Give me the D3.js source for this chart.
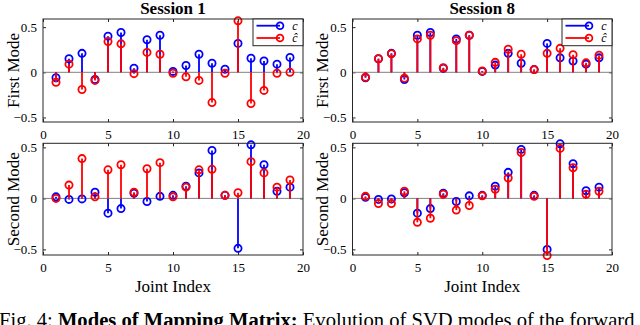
<!DOCTYPE html>
<html>
<head>
<meta charset="utf-8">
<script src="https://cdn.jsdelivr.net/npm/d3@7"></script>
<style>
  body { margin: 0; background: #fff; }
  svg { display: block; }
  text { font-family: "Liberation Serif", "Times New Roman", serif; fill: #000; }
</style>
</head>
<body>
<div id="chart"></div>
<script>
// joint index on the x axis
const joints = [1, 2, 3, 4, 5, 6, 7, 8, 9, 10, 11, 12, 13, 14, 15, 16, 17, 18, 19];

// Session 1, first mode
const s1FirstC    = [-0.06, 0.15, 0.21, -0.08, 0.40, 0.44, 0.045, 0.36, 0.41, 0.01, 0.075, 0.20, 0.10, 0.035, 0.32, 0.155, 0.125, 0.09, 0.165];
const s1FirstChat = [-0.11, 0.09, -0.19, -0.09, 0.34, 0.315, -0.015, 0.22, 0.20, -0.01, -0.05, -0.09, -0.335, -0.01, 0.57, -0.345, -0.20, -0.01, 0.0];
// Session 8, first mode
const s8FirstC    = [-0.06, 0.15, 0.21, -0.08, 0.41, 0.44, 0.045, 0.37, 0.41, 0.01, 0.08, 0.21, 0.10, 0.03, 0.32, 0.16, 0.125, 0.09, 0.16];
const s8FirstChat = [-0.055, 0.15, 0.205, -0.065, 0.37, 0.41, 0.05, 0.35, 0.41, 0.015, 0.11, 0.255, 0.20, 0.03, 0.21, 0.265, 0.195, 0.105, 0.19];
// Session 1, second mode
const s1SecondC    = [0.015, -0.01, -0.005, 0.06, -0.145, -0.10, 0.05, -0.03, 0.02, 0.03, 0.12, 0.25, 0.47, 0.03, -0.49, 0.525, 0.33, 0.07, 0.11];
const s1SecondChat = [0.0, 0.13, 0.39, 0.015, 0.28, 0.33, 0.06, 0.29, 0.35, 0.015, 0.11, 0.28, 0.285, 0.03, 0.055, 0.36, 0.25, 0.11, 0.18];
// Session 8, second mode
const s8SecondC    = [0.01, -0.01, -0.005, 0.055, -0.145, -0.10, 0.05, -0.03, 0.025, 0.03, 0.12, 0.255, 0.48, 0.03, -0.50, 0.535, 0.34, 0.075, 0.11];
const s8SecondChat = [0.02, -0.05, -0.05, 0.07, -0.235, -0.195, 0.04, -0.115, -0.07, 0.025, 0.09, 0.20, 0.45, 0.02, -0.56, 0.49, 0.30, 0.04, 0.07];

const xTicks = [0, 5, 10, 15, 20];
const yTicks = [-0.5, 0, 0.5];
const sessionTitles = ["Session 1", "Session 8"];
const rowLabels = ["First Mode", "Second Mode"];
const seriesNames = ["c", "ĉ"];

const W = 640, H = 325;
const blue = "#0000ff", red = "#ff0000", axisCol = "#262626";

const svg = d3.select("#chart").append("svg")
  .attr("width", W)
  .attr("height", H);

// panel boxes
const cols = [{x0: 43, x1: 303}, {x0: 352.5, x1: 612}];
const rows = [
  {y0: 19, y1: 122, dom: [-0.55, 0.59], label: rowLabels[0]},
  {y0: 143.3, y1: 255, dom: [-0.555, 0.54], label: rowLabels[1]}
];

const panels = [
  {r: 0, c: 0, c1: s1FirstC, c2: s1FirstChat},
  {r: 0, c: 1, c1: s8FirstC, c2: s8FirstChat},
  {r: 1, c: 0, c1: s1SecondC, c2: s1SecondChat},
  {r: 1, c: 1, c1: s8SecondC, c2: s8SecondChat}
];

panels.forEach(function(p) {
  const col = cols[p.c], row = rows[p.r];
  const xScale = d3.scaleLinear().domain([0, 20]).range([col.x0, col.x1]);
  const yScale = d3.scaleLinear().domain(row.dom).range([row.y1, row.y0]);
  const g = svg.append("g");

  // axes with inward ticks
  const fmt = d => d === 0 ? "0" : d3.format(".1f")(d);
  g.append("g")
    .attr("transform", "translate(0," + row.y1 + ")")
    .call(d3.axisBottom(xScale).tickValues(xTicks).tickSizeInner(-3).tickSizeOuter(0).tickPadding(8))
    .call(a => a.select(".domain").remove())
    .call(a => a.selectAll("text").style("font-size", "13px").style("font-family", "Liberation Serif"));
  g.append("g")
    .attr("transform", "translate(0," + row.y0 + ")")
    .call(d3.axisTop(xScale).tickValues(xTicks).tickSizeInner(-3).tickSizeOuter(0).tickFormat(""))
    .call(a => a.select(".domain").remove());
  g.append("g")
    .attr("transform", "translate(" + col.x0 + ",0)")
    .call(d3.axisLeft(yScale).tickValues(yTicks).tickFormat(fmt).tickSizeInner(-3).tickSizeOuter(0).tickPadding(6))
    .call(a => a.select(".domain").remove())
    .call(a => a.selectAll("text").style("font-size", "13px").style("font-family", "Liberation Serif"));
  g.append("g")
    .attr("transform", "translate(" + col.x1 + ",0)")
    .call(d3.axisRight(yScale).tickValues(yTicks).tickSizeInner(-3).tickSizeOuter(0).tickFormat(""))
    .call(a => a.select(".domain").remove());
  g.selectAll(".tick line").attr("stroke", axisCol);

  // stem baseline
  g.append("line")
    .attr("x1", col.x0).attr("x2", col.x1)
    .attr("y1", yScale(0)).attr("y2", yScale(0))
    .attr("stroke", "#808080").attr("stroke-width", 1);

  // stems: c first, then c-hat on top
  [[p.c1, blue], [p.c2, red]].forEach(function(s) {
    const vals = s[0], color = s[1];
    g.selectAll(null)
      .data(joints)
      .enter()
      .append("line")
      .attr("x1", d => xScale(d)).attr("x2", d => xScale(d))
      .attr("y1", yScale(0))
      .attr("y2", (d, i) => yScale(vals[i]))
      .attr("stroke", color)
      .attr("stroke-width", 1.8);
    g.selectAll(null)
      .data(joints)
      .enter()
      .append("circle")
      .attr("cx", d => xScale(d))
      .attr("cy", (d, i) => yScale(vals[i]))
      .attr("r", 3.6)
      .attr("fill", "none")
      .attr("stroke", color)
      .attr("stroke-width", 1.8);
  });

  // box
  g.append("rect")
    .attr("x", col.x0).attr("y", row.y0)
    .attr("width", col.x1 - col.x0).attr("height", row.y1 - row.y0)
    .attr("fill", "none").attr("stroke", axisCol).attr("stroke-width", 1);

  // y label
  g.append("text")
    .attr("transform", "translate(" + (col.x0 - 30) + "," + ((row.y0 + row.y1) / 2) + ") rotate(-90)")
    .attr("text-anchor", "middle")
    .attr("dominant-baseline", "central")
    .style("font-size", "17px")
    .text(row.label);

  if (p.r === 0) {
    // title
    g.append("text")
      .attr("x", (col.x0 + col.x1) / 2)
      .attr("y", 14)
      .attr("text-anchor", "middle")
      .style("font-size", "17px")
      .style("font-weight", "bold")
      .text(sessionTitles[p.c]);

    // legend
    const lg = g.append("g").attr("transform", "translate(" + (col.x1 - 50) + "," + row.y0 + ")");
    lg.append("rect")
      .attr("width", 50).attr("height", 26.7)
      .attr("fill", "#fff").attr("stroke", axisCol).attr("stroke-width", 1);
    [blue, red].forEach(function(color, i) {
      const yy = 6.7 + i * 12.3;
      lg.append("line")
        .attr("x1", 3.5).attr("x2", 27)
        .attr("y1", yy).attr("y2", yy)
        .attr("stroke", color).attr("stroke-width", 1.8);
      lg.append("circle")
        .attr("cx", 27).attr("cy", yy).attr("r", 3.4)
        .attr("fill", "none").attr("stroke", color).attr("stroke-width", 1.8);
      lg.append("text")
        .attr("x", 42).attr("y", yy)
        .attr("text-anchor", "middle")
        .attr("dominant-baseline", "central")
        .style("font-size", "12px")
        .style("font-style", "italic")
        .text(seriesNames[i]);
    });
  } else {
    // x label
    g.append("text")
      .attr("x", (col.x0 + col.x1) / 2)
      .attr("y", 292)
      .attr("text-anchor", "middle")
      .style("font-size", "17px")
      .text("Joint Index");
  }
});

// caption (cut by the picture's lower edge)
const caption = svg.append("text")
  .attr("x", -1)
  .attr("y", 327)
  .style("font-size", "20.6px");
caption.append("tspan").text("Fig. 4: ");
caption.append("tspan").style("font-weight", "bold").text("Modes of Mapping Matrix:");
caption.append("tspan").text(" Evolution of SVD modes of the forward");
</script>
</body>
</html>
